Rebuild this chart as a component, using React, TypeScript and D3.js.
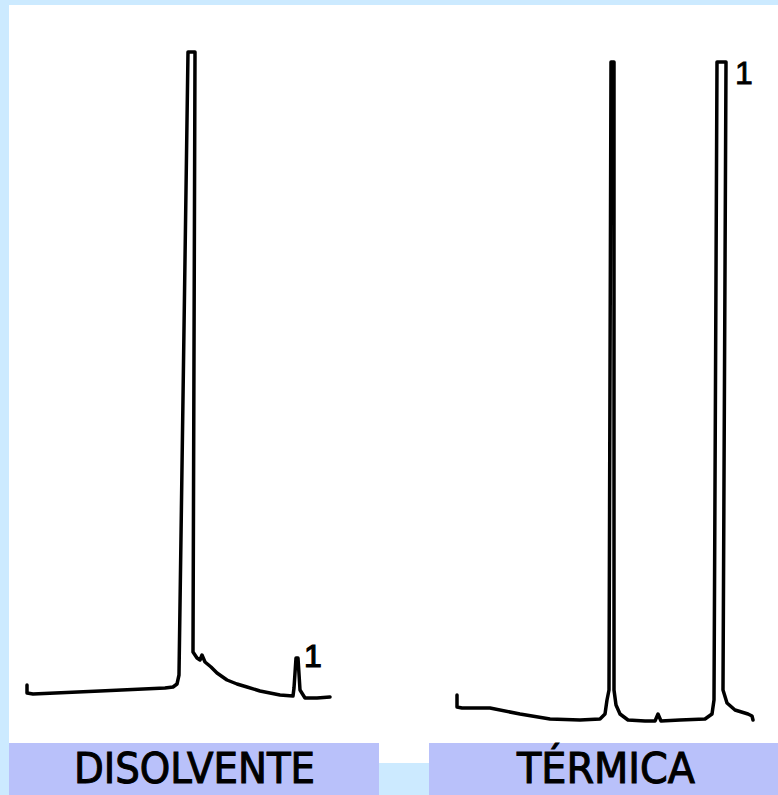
import React from "react";
import * as d3 from "d3";

// Left chromatogram ("DISOLVENTE"): retention time (arb. units) vs detector signal
const disolventeTime = [0, 0, 6, 73, 138, 146, 150, 152, 161, 168, 166, 170, 173, 175, 178, 184, 190, 200, 210, 220, 233, 253, 266, 267, 269, 271, 273, 278, 290, 303];
const disolventeSignal = [17, 9, 8, 11, 14, 15, 18, 27, 650, 650, 50, 44, 42, 47, 40, 35, 29, 22, 18, 15, 11, 7, 6, 14, 44, 44, 12, 4, 4, 5];

// Right chromatogram ("TÉRMICA")
const termicaTime = [2, 2, 7, 35, 65, 95, 125, 145, 150, 152, 154, 156, 159, 159, 161, 165, 173, 190, 200, 203, 206, 225, 250, 257, 259, 262, 271, 268, 272, 280, 293, 297, 298];
const termicaSignal = [27, 15, 14, 14, 8, 3, 2, 3, 8, 22, 32, 660, 660, 32, 17, 8, 2, 1, 1, 8, 1, 2, 3, 8, 22, 660, 660, 32, 19, 12, 8, 6, 2];

const panelLabels = ["DISOLVENTE", "TÉRMICA"];
const peakLabel = "1";

const W = 778;
const H = 795;

export default function App() {
  const xLeft = d3.scaleLinear().domain([0, 303]).range([27, 330]);
  const yLeft = d3.scaleLinear().domain([0, 650]).range([702, 52]);
  const xRight = d3.scaleLinear().domain([0, 300]).range([455, 755]);
  const yRight = d3.scaleLinear().domain([0, 660]).range([722, 62]);

  const leftData = disolventeTime.map((t, i) => [t, disolventeSignal[i]] as [number, number]);
  const rightData = termicaTime.map((t, i) => [t, termicaSignal[i]] as [number, number]);

  const lineLeft = d3
    .line<[number, number]>()
    .x((d) => xLeft(d[0]))
    .y((d) => yLeft(d[1]))
    .curve(d3.curveLinear);
  const lineRight = d3
    .line<[number, number]>()
    .x((d) => xRight(d[0]))
    .y((d) => yRight(d[1]))
    .curve(d3.curveLinear);

  const labelFont = "'Liberation Sans Narrow', 'DejaVu Sans Condensed', 'Liberation Sans', sans-serif";

  return (
    <svg
      width={W}
      height={H}
      style={{ position: "absolute", left: 0, top: 0, display: "block" }}
    >
      <rect x={0} y={0} width={W} height={H} fill="#cceaff" />
      <rect x={9} y={5} width={W - 9} height={738} fill="#ffffff" />
      <rect x={379} y={743} width={50} height={20} fill="#ffffff" />
      <rect x={9} y={743} width={370} height={52} fill="#b9c1fa" />
      <rect x={429} y={743} width={349} height={52} fill="#b9c1fa" />

      <path
        d={lineLeft(leftData) || ""}
        fill="none"
        stroke="#000"
        strokeWidth={3.5}
        strokeLinejoin="round"
        strokeLinecap="round"
      />
      <path
        d={lineRight(rightData) || ""}
        fill="none"
        stroke="#000"
        strokeWidth={3.5}
        strokeLinejoin="round"
        strokeLinecap="round"
      />

      <text
        x={xLeft(286)}
        y={667}
        fontFamily="'Liberation Sans', Arial, sans-serif"
        fontSize={32}
        fill="#000"
        stroke="#000"
        strokeWidth={1.2}
        textAnchor="middle"
      >
        {peakLabel}
      </text>
      <text
        x={xRight(289)}
        y={84}
        fontFamily="'Liberation Sans', Arial, sans-serif"
        fontSize={32}
        fill="#000"
        stroke="#000"
        strokeWidth={0.8}
        textAnchor="middle"
      >
        {peakLabel}
      </text>

      <text
        x={194.5}
        y={783}
        fontFamily={labelFont}
        fontSize={42}
        fill="#000"
        stroke="#000"
        strokeWidth={1}
        textAnchor="middle"
        textLength={241}
        lengthAdjust="spacingAndGlyphs"
      >
        {panelLabels[0]}
      </text>
      <text
        x={606}
        y={783}
        fontFamily={labelFont}
        fontSize={42}
        fill="#000"
        stroke="#000"
        strokeWidth={1}
        textAnchor="middle"
        textLength={178}
        lengthAdjust="spacingAndGlyphs"
      >
        {panelLabels[1]}
      </text>
    </svg>
  );
}
